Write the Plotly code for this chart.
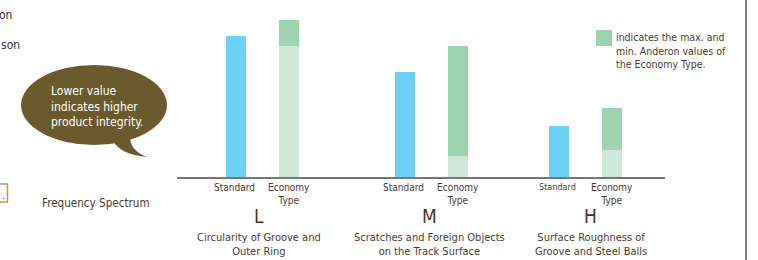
import plotly.graph_objects as go

W, H = 758, 260

# ---- data (arbitrary units) ----
groups = ["L", "M", "H"]
group_desc = ["Circularity of Groove and<br>Outer Ring",
              "Scratches and Foreign Objects<br>on the Track Surface",
              "Surface Roughness of<br>Groove and Steel Balls"]
standard_vals = [141, 105, 51]
economy_min = [131, 21, 27]
economy_max = [157, 131, 69]
bar_labels = ["Standard", "Economy<br>Type"]

# ---- layout constants (pixels) ----
BASE = 177
group_centers = [262.5, 431.5, 585.5]
offset = 26.5
letter_x = [259, 429, 590.5]
FONT = "DejaVu Sans Condensed, sans-serif"
BROWN = "#4a3a32"
C_STD = "#6dd0f7"
C_ECO_D = "#9dd3b0"
C_ECO_L = "#cde8d8"


def px(x):
    return x / W


def py(y):
    return 1 - y / H


std_x = [c - offset for c in group_centers]
eco_x = [c + offset for c in group_centers]
eco_span = [mx - mn for mx, mn in zip(economy_max, economy_min)]

fig = go.Figure()
fig.add_trace(go.Bar(x=std_x, y=standard_vals, width=20, marker_color=C_STD,
                     marker_line_width=0, name="Standard", hoverinfo="skip"))
fig.add_trace(go.Bar(x=eco_x, y=economy_min, width=20, marker_color=C_ECO_L,
                     marker_line_width=0, name="Economy min", hoverinfo="skip"))
fig.add_trace(go.Bar(x=eco_x, y=eco_span, base=economy_min, width=20,
                     marker_color=C_ECO_D, marker_line_width=0, name="Economy range",
                     hoverinfo="skip"))

ann = []
for i, g in enumerate(groups):
    ann.append(dict(x=std_x[i] - 1.5, y=py(187), xref="x", yref="paper", text=bar_labels[0],
                    showarrow=False, font=dict(size=10 if i < 2 else 9, color=BROWN),
                    yanchor="middle"))
    ann.append(dict(x=eco_x[i], y=py(194), xref="x", yref="paper", text=bar_labels[1],
                    showarrow=False, font=dict(size=10, color=BROWN), yanchor="middle"))
    ann.append(dict(x=letter_x[i], y=py(216), xref="x", yref="paper", text=g,
                    showarrow=False, font=dict(size=19, color="#4a3128"), yanchor="middle"))
    ann.append(dict(x=letter_x[i], y=py(244), xref="x", yref="paper", text=group_desc[i],
                    showarrow=False, font=dict(size=11, color=BROWN), yanchor="middle"))

# bubble text
ann.append(dict(x=px(49), y=py(106), xref="paper", yref="paper",
                text="Lower value<br>indicates higher<br>product integrity.",
                showarrow=False, align="left", xanchor="left", yanchor="middle",
                font=dict(size=12, color="white")))
# left texts
ann.append(dict(x=px(14), y=py(15), xref="paper", yref="paper", text="on",
                showarrow=False, xanchor="right", yanchor="middle",
                font=dict(size=12, color="#333333")))
ann.append(dict(x=px(-1.5), y=py(45), xref="paper", yref="paper", text="son",
                showarrow=False, xanchor="left", yanchor="middle",
                font=dict(size=12, color="#333333")))
ann.append(dict(x=px(96), y=py(203), xref="paper", yref="paper", text="Frequency Spectrum",
                showarrow=False, xanchor="center", yanchor="middle",
                font=dict(size=11.6, color=BROWN)))
ann.append(dict(x=px(3), y=py(195), xref="paper", yref="paper", text=".",
                showarrow=False, xanchor="center", yanchor="middle",
                font=dict(size=10, color=BROWN)))
# legend text
ann.append(dict(x=px(614), y=py(51), xref="paper", yref="paper",
                text="indicates the max. and<br>min. Anderon values of<br>the Economy Type.",
                showarrow=False, align="left", xanchor="left", yanchor="middle",
                font=dict(size=10.5, color=BROWN)))

shapes = [
    # bubble
    dict(type="circle", xref="paper", yref="paper", x0=px(21), x1=px(167),
         y0=py(145), y1=py(65), fillcolor="#6b5a2e", line_width=0, layer="below"),
    dict(type="path", xref="paper", yref="paper",
         path=(f"M {px(112)},{py(138)} Q {px(117)},{py(154)} {px(147)},{py(157)} "
               f"Q {px(131)},{py(151)} {px(130)},{py(138)} Z"),
         fillcolor="#6b5a2e", line_width=0, layer="below"),
    # legend swatch
    dict(type="rect", xref="paper", yref="paper", x0=px(596), x1=px(612),
         y0=py(46), y1=py(30), fillcolor=C_ECO_D, line_width=0),
    # right vertical rule
    dict(type="line", xref="paper", yref="paper", x0=px(746), x1=px(746),
         y0=0, y1=1, line=dict(color="#555555", width=1.5)),
    # orange box at left
    dict(type="rect", xref="paper", yref="paper", x0=px(-10), x1=px(7.5),
         y0=py(202), y1=py(184), line=dict(color="#c8954a", width=1.5),
         fillcolor="rgba(0,0,0,0)"),
]

fig.update_layout(
    width=W, height=H, margin=dict(l=0, r=0, t=0, b=0),
    paper_bgcolor="white", plot_bgcolor="white",
    barmode="overlay", showlegend=False,
    font=dict(family=FONT),
    xaxis=dict(domain=[px(177), px(665)], range=[177, 665], showgrid=False,
               zeroline=False, showticklabels=False, ticks="",
               showline=True, linecolor="#777777", linewidth=1.5, fixedrange=True),
    yaxis=dict(domain=[py(BASE), 1], range=[0, BASE], showgrid=False, zeroline=False,
               showticklabels=False, ticks="", showline=False, fixedrange=True),
    annotations=ann, shapes=shapes,
)

fig.write_html("out.html", config={"displayModeBar": False},
               post_script="document.body.style.margin='0';document.body.style.overflow='hidden';")
